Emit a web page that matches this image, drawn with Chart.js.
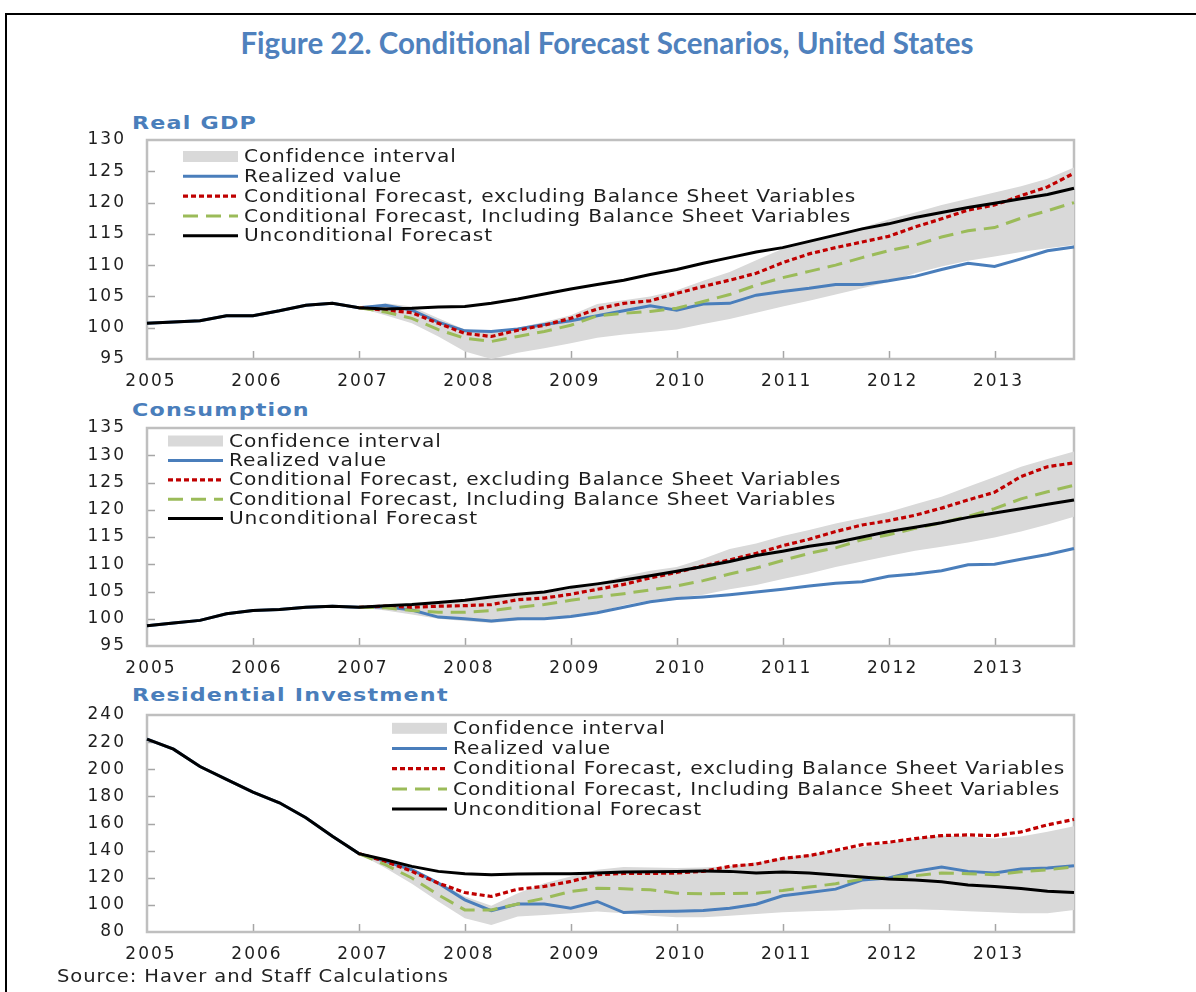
<!DOCTYPE html>
<html>
<head>
<meta charset="utf-8">
<script src="https://cdn.jsdelivr.net/npm/chart.js@4.4.0/dist/chart.umd.min.js"></script>
<style>
  body { margin: 0; background: #fff; }
  #page { position: relative; width: 1196px; height: 992px; overflow: hidden; background: #fff; }
  #frame { position: absolute; left: 5px; top: 13px; width: 1200px; height: 1000px;
           border-left: 2px solid #000; border-top: 2px solid #000; }
  #title { position: absolute; left: 0; top: 25px; width: 1214px; text-align: center;
           font: bold 29.5px Lato; color: #4f81bd; white-space: nowrap; }
  .ptitle { position: absolute; left: 132px; font: bold 18.5px "DejaVu Sans"; line-height: 22px;
            letter-spacing: 1px; color: #4a7ebb; white-space: nowrap;
            transform: scaleX(1.2); transform-origin: 0 0; }
  .panel { position: absolute; left: 0; }
  #source { position: absolute; left: 57px; top: 966px; font: 17px "DejaVu Sans"; line-height: 20px;
            letter-spacing: 0.8px; color: #222; white-space: nowrap;
            transform: scaleX(1.15); transform-origin: 0 0; }
</style>
</head>
<body>
<div id="page">
  <div id="frame"></div>
  <div id="title">Figure 22. Conditional Forecast Scenarios, United States</div>

  <div class="ptitle" style="top:112px">Real GDP</div>
  <canvas class="panel" id="gdpChart" width="1196" height="262" style="top:130px"></canvas>

  <div class="ptitle" style="top:399px">Consumption</div>
  <canvas class="panel" id="consChart" width="1196" height="262" style="top:418px"></canvas>

  <div class="ptitle" style="top:684px">Residential Investment</div>
  <canvas class="panel" id="resChart" width="1196" height="262" style="top:705px"></canvas>

  <div id="source">Source: Haver and Staff Calculations</div>
</div>

<script>
// quarterly categories, 2005Q1 .. 2013Q4
const years = ['2005', '2006', '2007', '2008', '2009', '2010', '2011', '2012', '2013'];
const quarters = years.flatMap(y => ['Q1', 'Q2', 'Q3', 'Q4'].map(q => y + q));

const seriesNames = [
    'Confidence interval',
    'Realized value',
    'Conditional Forecast, excluding Balance Sheet Variables',
    'Conditional Forecast, Including Balance Sheet Variables',
    'Unconditional Forecast'
];

const _ = null;

// Real GDP
const gdpUpper = [_, _, _, _, _, _, _, _, 103.2, 103.9, 103.4, 101.5, 99.7, 99.3, 100.0, 100.9, 102.0, 103.8, 104.4, 105.0, 106.0, 107.5, 108.9, 110.8, 112.6, 113.8, 114.8, 116.0, 117.3, 118.4, 119.6, 120.6, 121.6, 122.6, 123.8, 125.6];
const gdpLower = [_, _, _, _, _, _, _, _, 103.2, 102.0, 100.7, 98.6, 96.2, 95.0, 96.0, 96.7, 97.5, 98.4, 98.9, 99.3, 99.7, 100.6, 101.4, 102.4, 103.4, 104.3, 105.3, 106.3, 107.3, 108.7, 109.8, 110.7, 111.4, 112.1, 112.7, 113.2];
const gdpRealized = [100.7, 100.9, 101.1, 101.9, 101.9, 102.7, 103.6, 103.9, 103.2, 103.6, 102.8, 100.9, 99.5, 99.4, 99.8, 100.5, 101.1, 101.9, 102.7, 103.5, 102.8, 103.8, 103.9, 105.2, 105.8, 106.3, 106.9, 106.9, 107.5, 108.2, 109.3, 110.3, 109.8, 111.0, 112.3, 112.9];
const gdpExcl = [_, _, _, _, _, _, _, _, 103.2, 102.8, 102.4, 100.7, 99.1, 98.6, 99.6, 100.4, 101.5, 103.0, 103.9, 104.3, 105.5, 106.6, 107.6, 108.7, 110.4, 111.8, 112.8, 113.7, 114.6, 116.1, 117.4, 118.8, 119.6, 121.1, 122.5, 124.7];
const gdpIncl = [_, _, _, _, _, _, _, _, 103.2, 102.5, 101.5, 99.7, 98.3, 97.8, 98.6, 99.4, 100.4, 101.9, 102.3, 102.6, 103.1, 104.2, 105.3, 106.8, 108.0, 109.0, 110.0, 111.2, 112.3, 113.2, 114.5, 115.5, 116.0, 117.5, 118.7, 120.0];
const gdpUncond = [100.7, 100.9, 101.1, 101.9, 101.9, 102.7, 103.6, 103.9, 103.2, 103.0, 103.1, 103.3, 103.4, 103.9, 104.6, 105.4, 106.2, 106.9, 107.6, 108.5, 109.3, 110.3, 111.2, 112.1, 112.8, 113.8, 114.8, 115.8, 116.6, 117.6, 118.4, 119.2, 119.9, 120.6, 121.3, 122.3];

// Consumption
const consUpper = [_, _, _, _, _, _, _, _, 102.1, 102.5, 102.6, 102.9, 103.3, 103.8, 104.3, 104.7, 105.5, 106.5, 107.8, 108.8, 109.5, 111.0, 112.8, 113.8, 115.2, 116.3, 117.5, 118.5, 119.6, 121.0, 122.4, 124.2, 126.0, 127.9, 129.3, 130.7];
const consLower = [_, _, _, _, _, _, _, _, 102.1, 101.5, 100.8, 100.0, 99.6, 99.2, 99.7, 100.2, 100.6, 101.2, 102.5, 103.4, 103.9, 104.4, 105.4, 106.2, 107.3, 108.3, 109.5, 110.5, 111.5, 112.5, 113.2, 114.0, 114.9, 116.0, 117.3, 118.7];
const consRealized = [98.7, 99.2, 99.7, 100.9, 101.5, 101.7, 102.1, 102.3, 102.1, 102.2, 101.6, 100.3, 100.0, 99.6, 100.0, 100.0, 100.4, 101.1, 102.1, 103.1, 103.7, 104.0, 104.4, 104.9, 105.4, 106.0, 106.5, 106.8, 107.8, 108.2, 108.8, 109.9, 110.0, 110.9, 111.8, 112.9];
const consExcl = [_, _, _, _, _, _, _, _, 102.1, 102.3, 102.1, 102.3, 102.4, 102.6, 103.5, 103.8, 104.5, 105.4, 106.3, 107.5, 108.5, 109.7, 110.8, 112.0, 113.4, 114.6, 116.0, 117.2, 118.0, 119.0, 120.3, 121.8, 123.2, 126.1, 127.9, 128.6];
const consIncl = [_, _, _, _, _, _, _, _, 102.1, 102.0, 101.5, 101.2, 101.2, 101.5, 102.1, 102.6, 103.4, 104.0, 104.6, 105.3, 106.0, 107.0, 108.2, 109.3, 110.7, 112.0, 113.0, 114.5, 115.4, 116.6, 117.6, 118.8, 120.2, 122.0, 123.3, 124.5];
const consUncond = [98.7, 99.2, 99.7, 100.9, 101.5, 101.7, 102.1, 102.3, 102.1, 102.4, 102.6, 103.0, 103.4, 104.0, 104.5, 104.9, 105.8, 106.4, 107.1, 107.9, 108.7, 109.6, 110.5, 111.6, 112.4, 113.3, 114.0, 115.0, 116.0, 116.8, 117.6, 118.6, 119.4, 120.2, 121.0, 121.8];

// Residential investment
const resUpper = [_, _, _, _, _, _, _, _, 137.8, 133.8, 127.2, 117.3, 106.2, 99.3, 108.6, 116.0, 121.0, 125.9, 127.9, 127.6, 127.2, 127.5, 128.4, 131.5, 134.6, 137.0, 139.5, 142.6, 145.7, 148.8, 151.2, 150.5, 149.0, 150.5, 154.0, 158.0];
const resLower = [_, _, _, _, _, _, _, _, 137.8, 127.2, 115.6, 102.5, 90.1, 85.2, 91.4, 92.6, 93.8, 95.1, 93.8, 91.9, 90.9, 90.9, 91.9, 93.3, 94.6, 95.3, 95.8, 96.8, 96.8, 96.8, 96.3, 95.3, 94.6, 93.8, 93.8, 96.3];
const resRealized = [222.2, 214.8, 202.0, 192.6, 183.2, 175.3, 164.2, 150.6, 137.8, 132.1, 125.9, 116.0, 103.7, 95.8, 100.7, 100.7, 97.5, 102.5, 94.3, 95.1, 95.3, 95.8, 97.5, 100.5, 106.7, 109.1, 111.6, 118.3, 119.8, 124.7, 127.9, 124.7, 123.5, 126.4, 127.2, 128.9];
const resExcl = [_, _, _, _, _, _, _, _, 137.8, 132.1, 124.7, 116.0, 109.1, 106.2, 111.6, 113.6, 117.3, 122.2, 123.2, 123.2, 123.5, 124.7, 128.4, 130.1, 134.3, 136.3, 140.2, 144.4, 146.2, 148.9, 151.1, 151.6, 151.1, 153.8, 159.0, 163.0];
const resIncl = [_, _, _, _, _, _, _, _, 137.8, 129.6, 119.8, 107.4, 96.3, 96.3, 100.7, 104.9, 109.9, 112.3, 111.9, 111.1, 108.6, 108.1, 108.4, 108.6, 110.6, 113.1, 115.6, 119.0, 120.2, 121.5, 123.5, 123.0, 122.2, 124.4, 125.9, 127.9];
const resUncond = [222.2, 214.8, 202.0, 192.6, 183.2, 175.3, 164.2, 150.6, 137.8, 133.3, 128.4, 124.7, 123.0, 122.2, 122.7, 123.0, 123.0, 123.5, 124.2, 124.4, 124.7, 124.9, 124.7, 123.5, 124.2, 123.5, 122.0, 120.5, 119.0, 118.3, 117.0, 114.6, 113.6, 112.1, 110.1, 109.1];

const BAND = '#d9d9d9';
const BLUE = '#4a7ebb';
const RED = '#c00000';
const GREEN = '#9bbb59';
const TEXT = '#1e1e1e';

// frame, inward tick marks and the legend drawn inside the plot area
const panelDecor = {
    id: 'panelDecor',
    beforeDraw(chart) {
        chart.ctx.letterSpacing = '2px';
    },
    beforeDatasetsDraw(chart) {
        const { ctx, chartArea: a, scales: { x, y } } = chart;
        ctx.save();
        ctx.strokeStyle = '#a6a6a6';
        ctx.lineWidth = 1.5;
        ctx.beginPath();
        quarters.forEach((q, i) => {
            if (i > 0 && q.endsWith('Q1')) {
                const px = Math.round(x.getPixelForValue(i)) + 0.5;
                ctx.moveTo(px, a.bottom);
                ctx.lineTo(px, a.bottom - 8);
            }
        });
        y.ticks.forEach(t => {
            if (t.value > y.min && t.value < y.max) {
                const py = Math.round(y.getPixelForValue(t.value)) + 0.5;
                ctx.moveTo(a.left, py);
                ctx.lineTo(a.left + 8, py);
            }
        });
        ctx.stroke();
        ctx.strokeStyle = '#bfbfbf';
        ctx.lineWidth = 2.5;
        ctx.strokeRect(a.left, a.top, a.right - a.left, a.bottom - a.top);
        ctx.restore();
    },
    afterDraw(chart, args, opts) {
        const ctx = chart.ctx;
        ctx.save();
        ctx.font = '18px "DejaVu Sans"';
        ctx.letterSpacing = '0.75px';
        ctx.textBaseline = 'middle';
        ctx.textAlign = 'left';
        let row = 0;
        chart.data.datasets.forEach(ds => {
            if (!ds.label) return;
            const yy = opts.top + row * opts.gap;
            if (ds.fill) {
                ctx.fillStyle = ds.backgroundColor;
                ctx.fillRect(opts.left, yy - 5.5, 55, 11);
            } else {
                ctx.strokeStyle = ds.borderColor;
                ctx.lineWidth = ds.borderWidth;
                ctx.setLineDash(ds.borderDash || []);
                ctx.beginPath();
                ctx.moveTo(opts.left, yy);
                ctx.lineTo(opts.left + 55, yy);
                ctx.stroke();
                ctx.setLineDash([]);
            }
            ctx.save();
            ctx.translate(opts.left + 61, yy + 1);
            ctx.scale(1.12, 1);
            ctx.fillStyle = TEXT;
            ctx.fillText(ds.label, 0, 0);
            ctx.restore();
            row++;
        });
        ctx.restore();
    }
};

function lineSet(label, data, color, width, dash, order) {
    return {
        label: label, data: data, borderColor: color, borderWidth: width, borderDash: dash,
        backgroundColor: color, pointRadius: 0, fill: false, tension: 0, order: order
    };
}

function makePanel(canvasId, p) {
    const tickFont = { family: 'DejaVu Sans', size: 17 };
    return new Chart(document.getElementById(canvasId), {
        type: 'line',
        data: {
            labels: quarters,
            datasets: [
                { label: seriesNames[0], data: p.upper, fill: '+1', backgroundColor: BAND, order: 10,
                  borderColor: 'rgba(0,0,0,0)', borderWidth: 0, pointRadius: 0, tension: 0 },
                { label: '', data: p.lower, fill: false, borderColor: 'rgba(0,0,0,0)', order: 9,
                  borderWidth: 0, pointRadius: 0, tension: 0 },
                lineSet(seriesNames[1], p.realized, BLUE, 3, undefined, 4),
                lineSet(seriesNames[2], p.excl, RED, 3.2, [5, 3], 3),
                lineSet(seriesNames[3], p.incl, GREEN, 3, [15, 8], 2),
                lineSet(seriesNames[4], p.uncond, '#000', 3, undefined, 1)
            ]
        },
        options: {
            responsive: false,
            animation: false,
            events: [],
            layout: { padding: { top: 10, right: 122, left: 0, bottom: 0 } },
            plugins: {
                legend: { display: false },
                tooltip: { enabled: false },
                panelDecor: p.legend
            },
            scales: {
                x: {
                    grid: { display: false, drawTicks: false },
                    border: { display: false },
                    ticks: {
                        autoSkip: false, maxRotation: 0, minRotation: 0,
                        padding: 12, labelOffset: 4, color: TEXT, font: tickFont,
                        callback: function (v) {
                            const l = this.getLabelForValue(v);
                            return l.endsWith('Q1') ? l.slice(0, 4) : '';
                        }
                    },
                    afterFit: s => {
                        s.height = p.xHeight;
                        s.paddingLeft = 0;
                        s.paddingRight = 0;
                    }
                },
                y: {
                    min: p.min, max: p.max,
                    grid: { display: false, drawTicks: false },
                    border: { display: false },
                    ticks: { stepSize: p.step, padding: 21, color: TEXT, font: tickFont },
                    afterFit: s => {
                        s.width = 147;
                        s.paddingTop = 0;
                        s.paddingBottom = 0;
                    }
                }
            }
        },
        plugins: [panelDecor]
    });
}

makePanel('gdpChart', {
    upper: gdpUpper, lower: gdpLower, realized: gdpRealized, excl: gdpExcl, incl: gdpIncl, uncond: gdpUncond,
    min: 95, max: 130, step: 5, xHeight: 33,
    legend: { left: 183, top: 26.5, gap: 19.8 }
});

makePanel('consChart', {
    upper: consUpper, lower: consLower, realized: consRealized, excl: consExcl, incl: consIncl, uncond: consUncond,
    min: 95, max: 135, step: 5, xHeight: 34,
    legend: { left: 168, top: 23, gap: 19.4 }
});

makePanel('resChart', {
    upper: resUpper, lower: resLower, realized: resRealized, excl: resExcl, incl: resIncl, uncond: resUncond,
    min: 80, max: 240, step: 20, xHeight: 35,
    legend: { left: 392, top: 23.3, gap: 20.2 }
});
</script>
</body>
</html>
